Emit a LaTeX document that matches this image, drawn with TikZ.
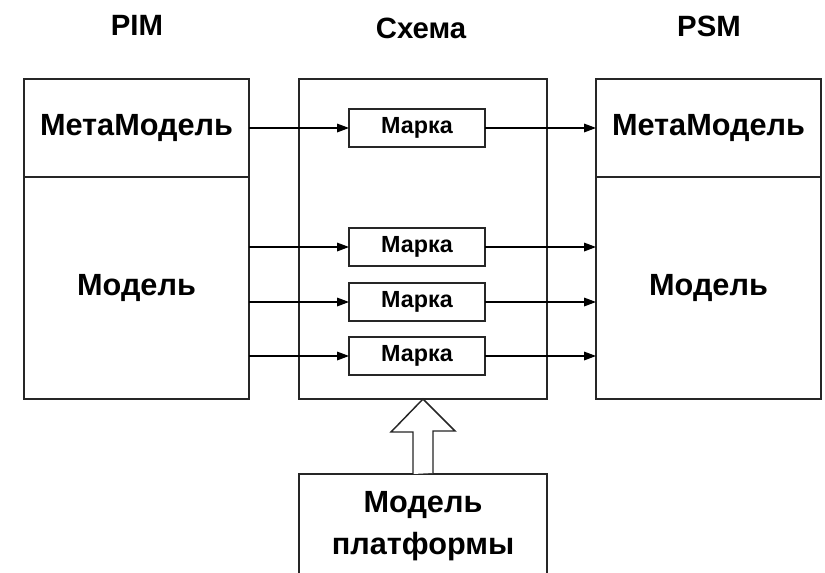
\documentclass[tikz,border=0pt]{standalone}
\usepackage{fontspec}
\setmainfont{Liberation Sans}
\usetikzlibrary{positioning,arrows.meta}

\begin{document}
\begin{tikzpicture}[
      x=0.75pt, y=-0.75pt,
      node distance=0pt,
      part/.style={rectangle, draw=black!85, line width=1.2pt, inner sep=0pt, outer sep=0pt,
                   minimum width=168.75pt, font=\bfseries\fontsize{23}{27}\selectfont},
      frame/.style={rectangle, draw=black!85, line width=1.2pt, inner sep=0pt, outer sep=0pt,
                    minimum width=186pt, font=\bfseries\fontsize{23}{31.5}\selectfont, align=center},
      tagbox/.style={rectangle, draw=black!85, line width=1.1pt, inner sep=0pt, outer sep=0pt,
                     minimum width=102pt, minimum height=28.5pt, font=\bfseries\fontsize{17.5}{20}\selectfont},
      title/.style={anchor=base, font=\bfseries\fontsize{22}{26}\selectfont},
      flow/.style={-{Triangle[length=9pt,width=6.5pt]}, line width=0.9pt},
      hollow/.style={draw=black!85, line width=1.1pt, fill=white}
    ]
    \useasboundingbox (0,0) rectangle (825,572);
    \clip (0,0) rectangle (825,572);

    % column titles
    \node[title] (pim) at (137,35) {PIM};
    \node[title] (sch) at (421,38) {Схема};
    \node[title] (psm) at (709,36) {PSM};

    % source and target models
    \node[part, minimum height=73.5pt] (pimmeta) at (136.5,128) {МетаМодель};
    \node[part, minimum height=166.5pt, below=of pimmeta] (pimmodel) {Модель};
    \node[part, minimum height=73.5pt] (psmmeta) at (708.5,128) {МетаМодель};
    \node[part, minimum height=166.5pt, below=of psmmeta] (psmmodel) {Модель};

    % mapping with its marks
    \node[frame, minimum height=240pt] (schema) at (423,239) {};
    \node[tagbox] (m1) at (417,128) {Марка};
    \node[tagbox] (m2) at (417,247) {Марка};
    \node[tagbox] (m3) at (417,302) {Марка};
    \node[tagbox] (m4) at (417,356) {Марка};

    % platform model below the mapping
    \node[frame, minimum height=78pt, below=56.25pt of schema] (platform) {Модель\\платформы};

    \draw[flow] (pimmeta.east |- m1) -- (m1);
    \draw[flow] (m1) -- (psmmeta.west |- m1);
    \draw[flow] (pimmodel.east |- m2) -- (m2);
    \draw[flow] (m2) -- (psmmodel.west |- m2);
    \draw[flow] (pimmodel.east |- m3) -- (m3);
    \draw[flow] (m3) -- (psmmodel.west |- m3);
    \draw[flow] (pimmodel.east |- m4) -- (m4);
    \draw[flow] (m4) -- (psmmodel.west |- m4);

    % wide hollow arrow into the mapping
    \draw[hollow] (platform.north) ++(-10,0) -- ++(0,-42) -- ++(-22,0) -- (schema.south)
      -- ++(32,32) -- ++(-22,0) -- ++(0,42);
  \end{tikzpicture}
\end{document}
